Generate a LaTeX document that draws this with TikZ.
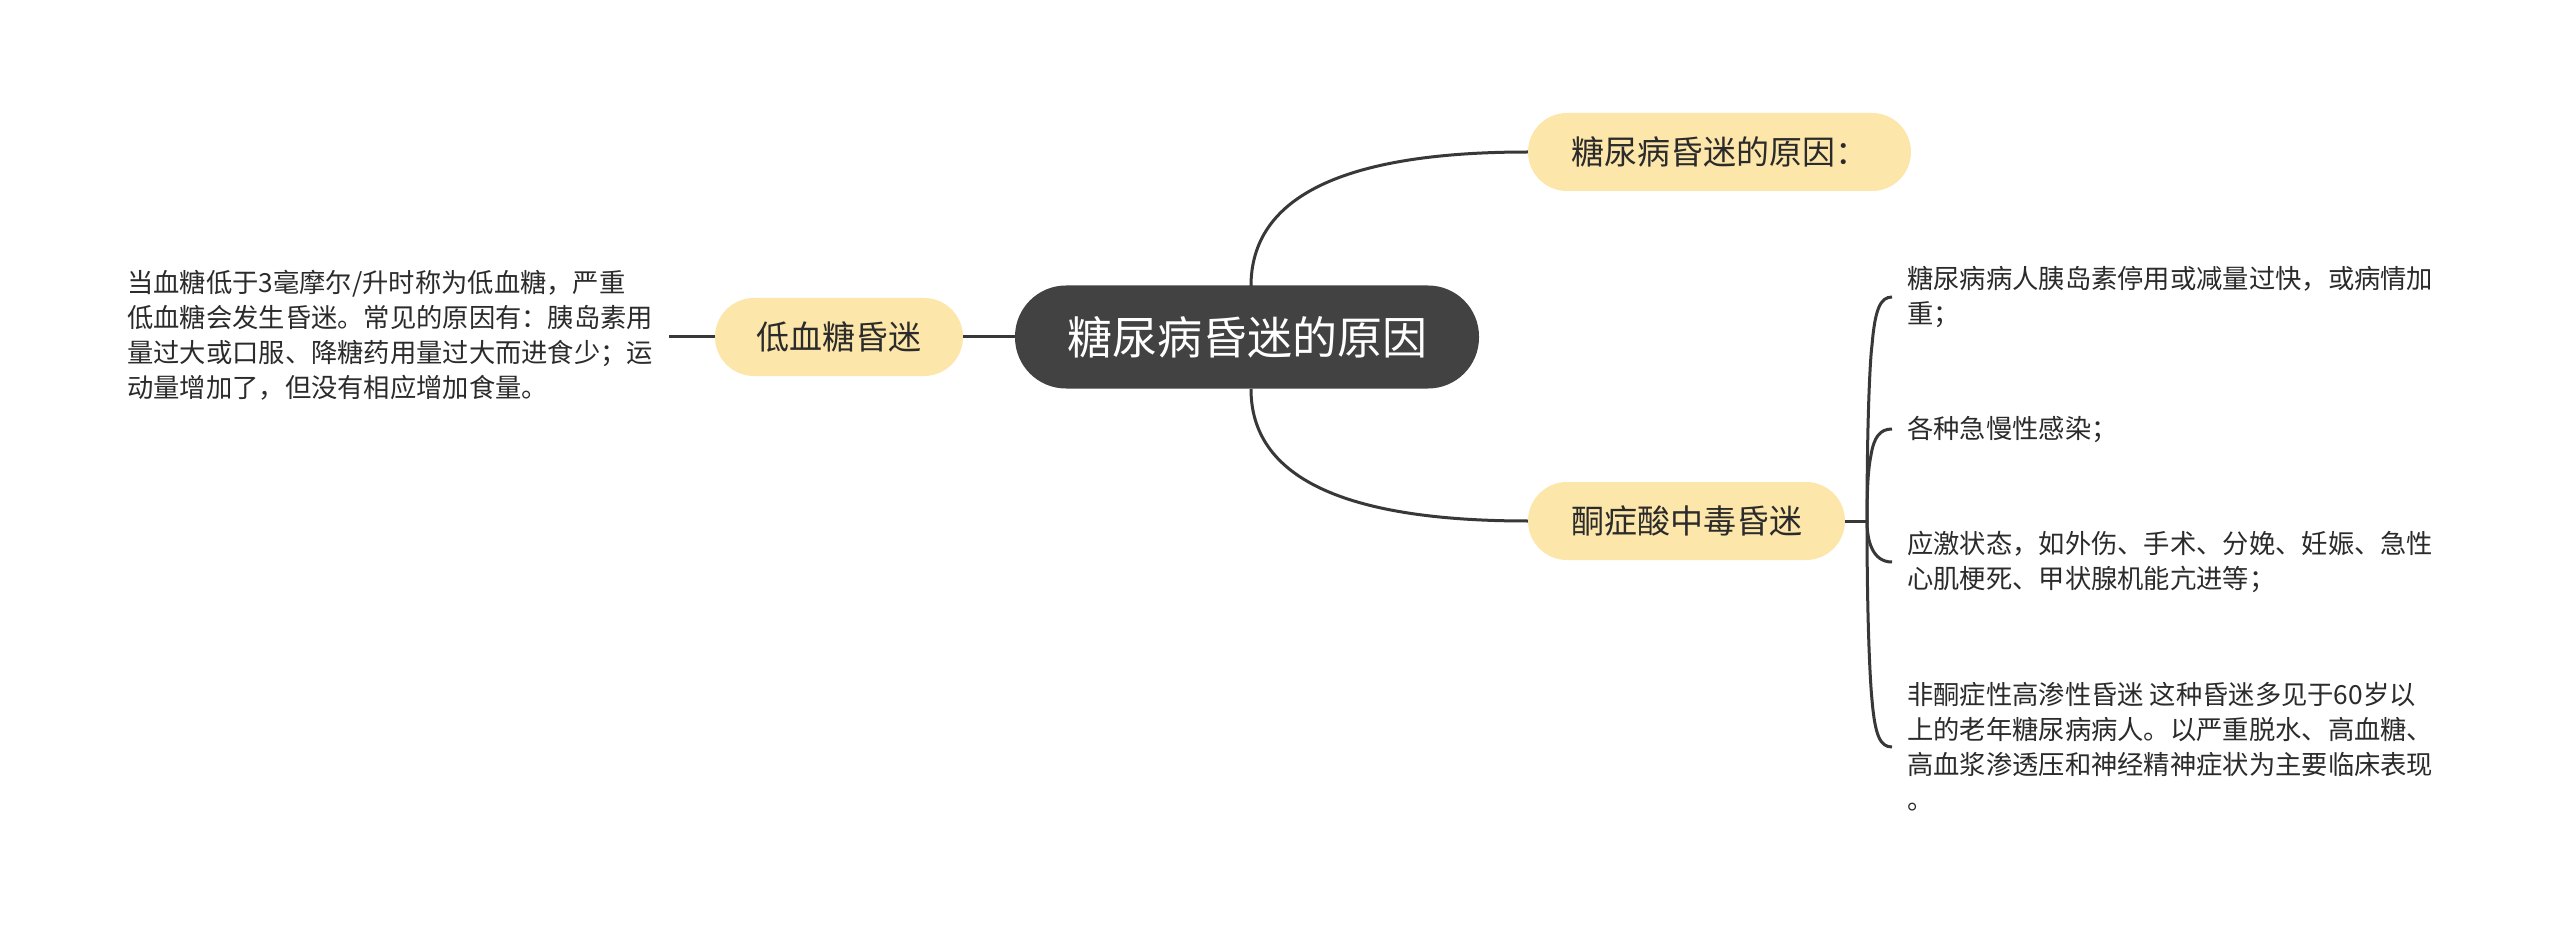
\documentclass[tikz,border=0pt]{standalone}
\usepackage{fontspec}
\setmainfont{Noto Sans CJK SC}
\definecolor{rootfill}{HTML}{424242}
\definecolor{subfill}{HTML}{FDE6AA}
\definecolor{linecol}{HTML}{383838}
\definecolor{txtcol}{HTML}{2B2B2B}
\tikzset{
  rootbox/.style={rectangle, rounded corners=51pt, fill=rootfill, text=white, inner sep=0pt,
    minimum width=464pt, minimum height=103pt, font=\fontsize{45}{54}\selectfont},
  subbox/.style={rectangle, rounded corners=39pt, fill=subfill, text=txtcol, inner sep=0pt,
    minimum height=78pt, font=\fontsize{33}{40}\selectfont},
  leaftext/.style={align=left, inner sep=0pt, text=txtcol, font=\fontsize{26.3}{35}\selectfont},
  conn/.style={draw=linecol, line width=3pt},
}
\begin{document}
\begin{tikzpicture}[x=1pt, y=-1pt]
\useasboundingbox[fill=white] (0,0) rectangle (2560,941);

\node[rootbox] (root) at (1247,337) {糖尿病昏迷的原因};
\node[subbox, minimum width=383pt] (top) at (1719.5,152) {糖尿病昏迷的原因：};
\node[subbox, minimum width=248pt] (low) at (839,337) {低血糖昏迷};
\node[subbox, minimum width=317pt] (keto) at (1686.5,521) {酮症酸中毒昏迷};

\node[leaftext, anchor=west] (lt) at (127,335) {当血糖低于3毫摩尔/升时称为低血糖，严重\\低血糖会发生昏迷。常见的原因有：胰岛素用\\量过大或口服、降糖药用量过大而进食少；运\\动量增加了，但没有相应增加食量。};

\node[leaftext, anchor=west] (b1) at (1907,297) {糖尿病病人胰岛素停用或减量过快，或病情加\\重；};
\node[leaftext, anchor=west] (b2) at (1907,429) {各种急慢性感染；};
\node[leaftext, anchor=west] (b3) at (1907,562) {应激状态，如外伤、手术、分娩、妊娠、急性\\心肌梗死、甲状腺机能亢进等；};
\node[leaftext, anchor=west] (b4) at (1907,747) {非酮症性高渗性昏迷 这种昏迷多见于60岁以\\上的老年糖尿病病人。以严重脱水、高血糖、\\高血浆渗透压和神经精神症状为主要临床表现\\。};

\coordinate (ltend) at (669,337);
\coordinate (rtop) at (1251,286);
\coordinate (rbot) at (1251,389);
\coordinate (j) at (1867,521);
\coordinate (e1) at (1892,297);
\coordinate (e2) at (1892,429);
\coordinate (e3) at (1892,562);
\coordinate (e4) at (1892,747);

\draw[conn] (root.west) -- (low.east);
\draw[conn] (low.west) -- (ltend);
\draw[conn] (rtop) .. controls (1251,196.7) and (1343.3,152) .. (top.west);
\draw[conn] (rbot) .. controls (1251,477.3) and (1343.3,521) .. (keto.west);
\draw[conn] (keto.east) -- (j);
\draw[conn] (j) .. controls (1867,420) and (1870,360) .. (1872,345) .. controls (1875,310) and (1880,297) .. (e1);
\draw[conn] (j) .. controls (1867,480) and (1869,465) .. (1871,455) .. controls (1874,437) and (1880,429) .. (e2);
\draw[conn] (j) .. controls (1867,540) and (1872,562) .. (e3);
\draw[conn] (j) .. controls (1867,620) and (1870,680) .. (1872,700) .. controls (1875,735) and (1880,747) .. (e4);
\end{tikzpicture}
\end{document}
